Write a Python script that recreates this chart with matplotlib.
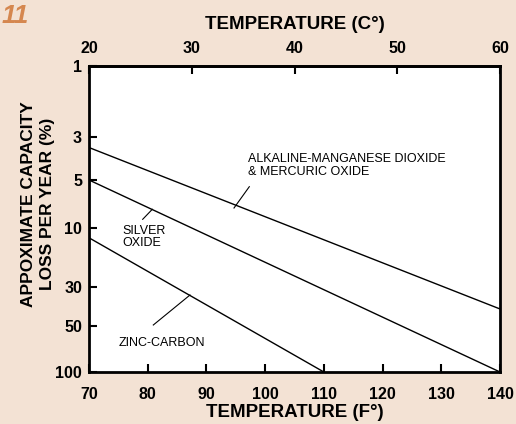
import numpy as np
import matplotlib.pyplot as plt
from matplotlib.scale import FuncScale

plt.rcParams['font.family'] = ['Liberation Sans', 'DejaVu Sans']

# y ticks and where the original chart places them (fraction of axis from top)
y_ticks = [1, 3, 5, 10, 30, 50, 100]
y_pos = [0.0, 0.232, 0.3725, 0.5294, 0.7222, 0.8497, 1.0]

x_ticks_f = [70, 80, 90, 100, 110, 120, 130, 140]
x_ticks_c = [20, 30, 40, 50, 60]

# lines: temperature (F) and loss (%)
alk_f = [70, 140]
alk_loss = [3.4, 40]
silver_f = [70, 140]
silver_loss = [5, 100]
zinc_f = [70, 110]
zinc_loss = [12, 100]

bg = '#f3e2d4'

lt = np.log10(y_ticks)


def fwd(v):
    v = np.clip(np.asarray(v, dtype=float), 1e-6, None)
    return np.interp(np.log10(v), lt, y_pos)


def inv(p):
    return 10 ** np.interp(p, y_pos, lt)


fig = plt.figure(figsize=(5.16, 4.24), dpi=100, facecolor=bg)
ax = fig.add_axes([89 / 516, 52 / 424, 411 / 516, 306 / 424])
ax.set_yscale(FuncScale(ax.yaxis, (fwd, inv)))
ax.set_ylim(100, 1)
ax.set_xlim(70, 140)

ax.plot(alk_f, alk_loss, color='black', lw=1)
ax.plot(silver_f, silver_loss, color='black', lw=1)
ax.plot(zinc_f, zinc_loss, color='black', lw=1)

ax.set_yticks(y_ticks)
ax.set_yticklabels([str(t) for t in y_ticks])
ax.yaxis.set_minor_locator(plt.NullLocator())
ax.set_xticks(x_ticks_f)

for s in ax.spines.values():
    s.set_linewidth(2)
ax.tick_params(direction='in', length=6, width=1.5, labelsize=11.5)
ax.tick_params(axis='x', pad=10.5)
ax.tick_params(axis='y', pad=5)
for lab in ax.get_xticklabels() + ax.get_yticklabels():
    lab.set_fontweight('bold')

ax.set_xlabel('TEMPERATURE (F°)', fontsize=13.5, fontweight='bold', labelpad=2)
ax.set_ylabel('APPOXIMATE CAPACITY\nLOSS PER YEAR (%)', fontsize=12.5,
              fontweight='bold', linespacing=1.3, ha='center', va='center')
ax.yaxis.set_label_coords((38 - 89) / 411, (372 - 204) / 306)

sec = ax.secondary_xaxis('top', functions=(lambda f: 20 + (f - 70) * 40 / 70,
                                           lambda c: 70 + (c - 20) * 70 / 40))
sec.set_xticks(x_ticks_c)
sec.tick_params(direction='in', length=6, width=1.5, labelsize=11.5, pad=7)
for lab in sec.get_xticklabels():
    lab.set_fontweight('bold')
sec.set_xlabel('TEMPERATURE (C°)', fontsize=13.5, fontweight='bold', labelpad=9)
sec.spines['top'].set_linewidth(2)


def px(x, y):
    # pixel (from top-left) to axes fraction
    return ((x - 89) / 411, (372 - y) / 306)


ax.text(*px(248, 165.5), 'ALKALINE-MANGANESE DIOXIDE\n& MERCURIC OXIDE',
        transform=ax.transAxes, fontsize=9, va='center', ha='left', linespacing=1.1)
ax.plot(*zip(px(249.3, 186.7), px(234, 208)), transform=ax.transAxes, color='black', lw=0.8)

ax.text(*px(122.7, 237), 'SILVER\nOXIDE',
        transform=ax.transAxes, fontsize=9, va='center', ha='left', linespacing=1.1)
ax.plot(*zip(px(152.3, 209.3), px(142.7, 219.3)), transform=ax.transAxes, color='black', lw=0.8)

ax.text(*px(118.3, 343.3), 'ZINC-CARBON',
        transform=ax.transAxes, fontsize=9, va='center', ha='left')
ax.plot(*zip(px(190, 295), px(153.3, 325)), transform=ax.transAxes, color='black', lw=0.8)

fig.text(2 / 516, 1 - 16 / 424, '11', fontsize=19, fontweight='bold', style='italic',
         color='#d5874f', va='center', ha='left')

fig.savefig('out.png', dpi=100, facecolor=bg)
